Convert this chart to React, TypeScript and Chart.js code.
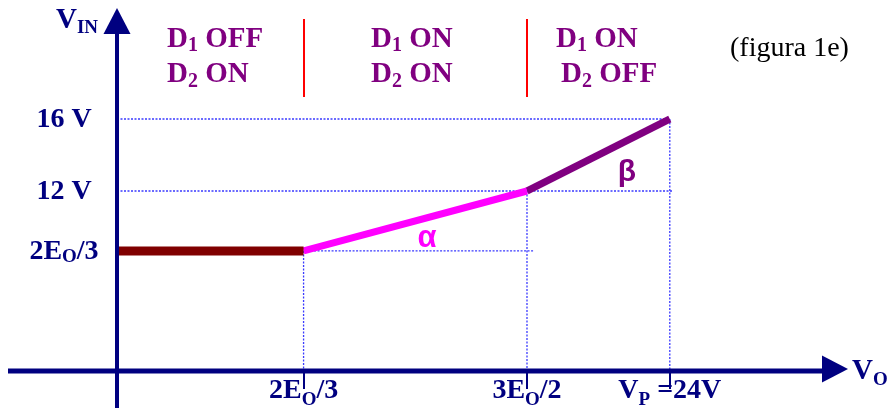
import React, { useEffect, useRef } from "react";
import { Chart, registerables } from "chart.js";

Chart.register(...registerables);

// ---- data ----
// V_IN(V_O) characteristic: vertices of the piecewise-linear curve
const vinX = [0, 8.1, 17.8, 24];
const vinY = [8.67, 8.67, 12, 16];
const segColors = ["#800000", "#ff00ff", "#800080"];
const segWidths = [9, 7, 7];

// x-axis breakpoints & labels (sub-scripted parts flagged with 1)
const xBreaks = [8.1, 17.8, 24];
const xTickLabels: [string, number][][] = [
  [["2E", 0], ["O", 1], ["/3", 0]],
  [["3E", 0], ["O", 1], ["/2", 0]],
  [["V", 0], ["P", 1], [" =24V", 0]],
];

// y-axis levels & labels
const yLevels = [8.67, 12, 16];
const yTickLabels: [string, number][][] = [
  [["2E", 0], ["O", 1], ["/3", 0]],
  [["12 V", 0]],
  [["16 V", 0]],
];

// dotted guide lines
const hGuideLevel = [16, 12, 8.67];
const hGuideFrom = [0, 0, 8.1];
const hGuideTo = [24, 24.1, 18.1];
const vGuideX = [8.1, 17.8, 24];
const vGuideTop = [8.67, 12, 16];

// region captions (diode states)
const regionRow1: [string, number][][] = [
  [["D", 0], ["1", 1], [" OFF", 0]],
  [["D", 0], ["1", 1], [" ON", 0]],
  [["D", 0], ["1", 1], [" ON", 0]],
];
const regionRow2: [string, number][][] = [
  [["D", 0], ["2", 1], [" ON", 0]],
  [["D", 0], ["2", 1], [" ON", 0]],
  [["D", 0], ["2", 1], [" OFF", 0]],
];

const X_MIN = 0;
const X_MAX = 30;
const Y_MIN = 2;
const Y_MAX = 20;

const SERIF = '"Liberation Serif", "Times New Roman", serif';
const NAVY = "#000080";
const PURPLE = "#800080";

function richWidth(ctx: CanvasRenderingContext2D, parts: [string, number][], font: string, subFont: string) {
  let w = 0;
  for (const [t, s] of parts) {
    ctx.font = s ? subFont : font;
    w += ctx.measureText(t).width;
  }
  return w;
}

function drawRich(
  ctx: CanvasRenderingContext2D,
  parts: [string, number][],
  x: number,
  baseline: number,
  align: "left" | "center",
  font: string,
  subFont: string,
  subDy: number,
  color: string
) {
  ctx.save();
  ctx.fillStyle = color;
  ctx.textBaseline = "alphabetic";
  ctx.textAlign = "left";
  let cx = x;
  if (align === "center") cx = x - richWidth(ctx, parts, font, subFont) / 2;
  for (const [t, s] of parts) {
    ctx.font = s ? subFont : font;
    ctx.fillText(t, cx, baseline + (s ? subDy : 0));
    cx += ctx.measureText(t).width;
  }
  ctx.restore();
}

const schematicPlugin = {
  id: "schematic",
  afterDatasetsDraw(chart: any) {
    const ctx: CanvasRenderingContext2D = chart.ctx;
    const xs = chart.scales.x;
    const ys = chart.scales.y;
    const x0 = xs.getPixelForValue(0);
    const yb = ys.getPixelForValue(Y_MIN);

    ctx.save();
    // y axis with arrow
    ctx.strokeStyle = NAVY;
    ctx.fillStyle = NAVY;
    ctx.lineWidth = 4;
    ctx.beginPath();
    ctx.moveTo(x0, 408);
    ctx.lineTo(x0, 30);
    ctx.stroke();
    ctx.beginPath();
    ctx.moveTo(x0, 8);
    ctx.lineTo(x0 - 13.5, 34);
    ctx.lineTo(x0 + 13.5, 34);
    ctx.closePath();
    ctx.fill();

    // x axis with arrow
    ctx.lineWidth = 5;
    ctx.beginPath();
    ctx.moveTo(8, yb);
    ctx.lineTo(826, yb);
    ctx.stroke();
    ctx.beginPath();
    ctx.moveTo(848, yb - 2);
    ctx.lineTo(822, yb - 15.5);
    ctx.lineTo(822, yb + 11.5);
    ctx.closePath();
    ctx.fill();

    // x ticks
    ctx.lineWidth = 2;
    for (const v of xBreaks) {
      const px = Math.round(xs.getPixelForValue(v));
      ctx.beginPath();
      ctx.moveTo(px, yb);
      ctx.lineTo(px, 389);
      ctx.stroke();
    }

    // region dividers
    ctx.strokeStyle = "#ff0000";
    ctx.lineWidth = 2;
    for (const v of xBreaks.slice(0, 2)) {
      const px = Math.round(xs.getPixelForValue(v));
      ctx.beginPath();
      ctx.moveTo(px, 19);
      ctx.lineTo(px, 97);
      ctx.stroke();
    }
    ctx.restore();

    const bold28 = `bold 28px ${SERIF}`;
    const bold19 = `bold 19px ${SERIF}`;

    // axis titles
    drawRich(ctx, [["V", 0], ["IN", 1]], 56, 28, "left", `bold 29px ${SERIF}`, bold19, 5, NAVY);
    drawRich(ctx, [["V", 0], ["O", 1]], 852, 379, "left", `bold 29px ${SERIF}`, bold19, 6, NAVY);

    // x tick labels
    xBreaks.forEach((v, i) => {
      drawRich(ctx, xTickLabels[i], xs.getPixelForValue(v), 398, "center", bold28, bold19, 7, NAVY);
    });
    // y tick labels
    yLevels.forEach((v, i) => {
      drawRich(ctx, yTickLabels[i], 64, ys.getPixelForValue(v) + 8, "center", bold28, bold19, 3, NAVY);
    });

    // region captions
    const row1X = [167, 371, 556];
    const row2X = [167, 371, 561];
    const bold29 = `bold 29px ${SERIF}`;
    const bold20 = `bold 20px ${SERIF}`;
    regionRow1.forEach((p, i) => drawRich(ctx, p, row1X[i], 47, "left", bold29, bold20, 4, PURPLE));
    regionRow2.forEach((p, i) => drawRich(ctx, p, row2X[i], 82, "left", bold29, bold20, 5, PURPLE));

    // slope markers
    ctx.save();
    ctx.textAlign = "center";
    ctx.textBaseline = "alphabetic";
    ctx.font = 'bold 31px "Liberation Sans", Arial, sans-serif';
    ctx.fillStyle = "#ff00ff";
    ctx.fillText("α", 427, 247);
    ctx.font = 'bold 30px "Liberation Sans", Arial, sans-serif';
    ctx.fillStyle = PURPLE;
    ctx.fillText("β", 627, 181);

    // figure caption
    ctx.textAlign = "left";
    ctx.font = `28px ${SERIF}`;
    ctx.fillStyle = "#000000";
    ctx.fillText("(figura 1e)", 730, 56);
    ctx.restore();
  },
};

export default function App() {
  const ref = useRef<HTMLCanvasElement | null>(null);

  useEffect(() => {
    if (!ref.current) return;
    const datasets: any[] = [];
    // coloured curve segments (drawn on top: earlier datasets are painted last)
    for (let i = 0; i < vinX.length - 1; i++) {
      datasets.push({
        data: [
          { x: vinX[i], y: vinY[i] },
          { x: vinX[i + 1], y: vinY[i + 1] },
        ],
        showLine: true,
        borderColor: segColors[i],
        backgroundColor: segColors[i],
        borderWidth: segWidths[i],
        borderCapStyle: "butt",
        pointRadius: 0,
        clip: false,
      });
    }
    const guide = (pts: { x: number; y: number }[]) => ({
      data: pts,
      showLine: true,
      borderColor: "#3a3aff",
      borderWidth: 1.3,
      borderDash: [2, 1.5],
      pointRadius: 0,
      clip: false,
    });
    hGuideLevel.forEach((lv, i) => {
      datasets.push(guide([{ x: hGuideFrom[i], y: lv }, { x: hGuideTo[i], y: lv }]));
    });
    vGuideX.forEach((vx, i) => {
      datasets.push(guide([{ x: vx, y: vGuideTop[i] }, { x: vx, y: Y_MIN }]));
    });

    const chart = new Chart(ref.current, {
      type: "scatter",
      data: { datasets },
      options: {
        animation: false,
        responsive: false,
        layout: { padding: { left: 117, right: 82, top: 47, bottom: 41 } },
        plugins: { legend: { display: false }, tooltip: { enabled: false }, title: { display: false } },
        scales: {
          x: { type: "linear", min: X_MIN, max: X_MAX, display: false },
          y: { type: "linear", min: Y_MIN, max: Y_MAX, display: false },
        },
      },
      plugins: [schematicPlugin],
    });
    return () => chart.destroy();
  }, []);

  return (
    <div style={{ position: "fixed", left: 0, top: 0, width: 890, height: 412, background: "#fff" }}>
      <canvas ref={ref} width={890} height={412} style={{ display: "block" }} />
    </div>
  );
}
